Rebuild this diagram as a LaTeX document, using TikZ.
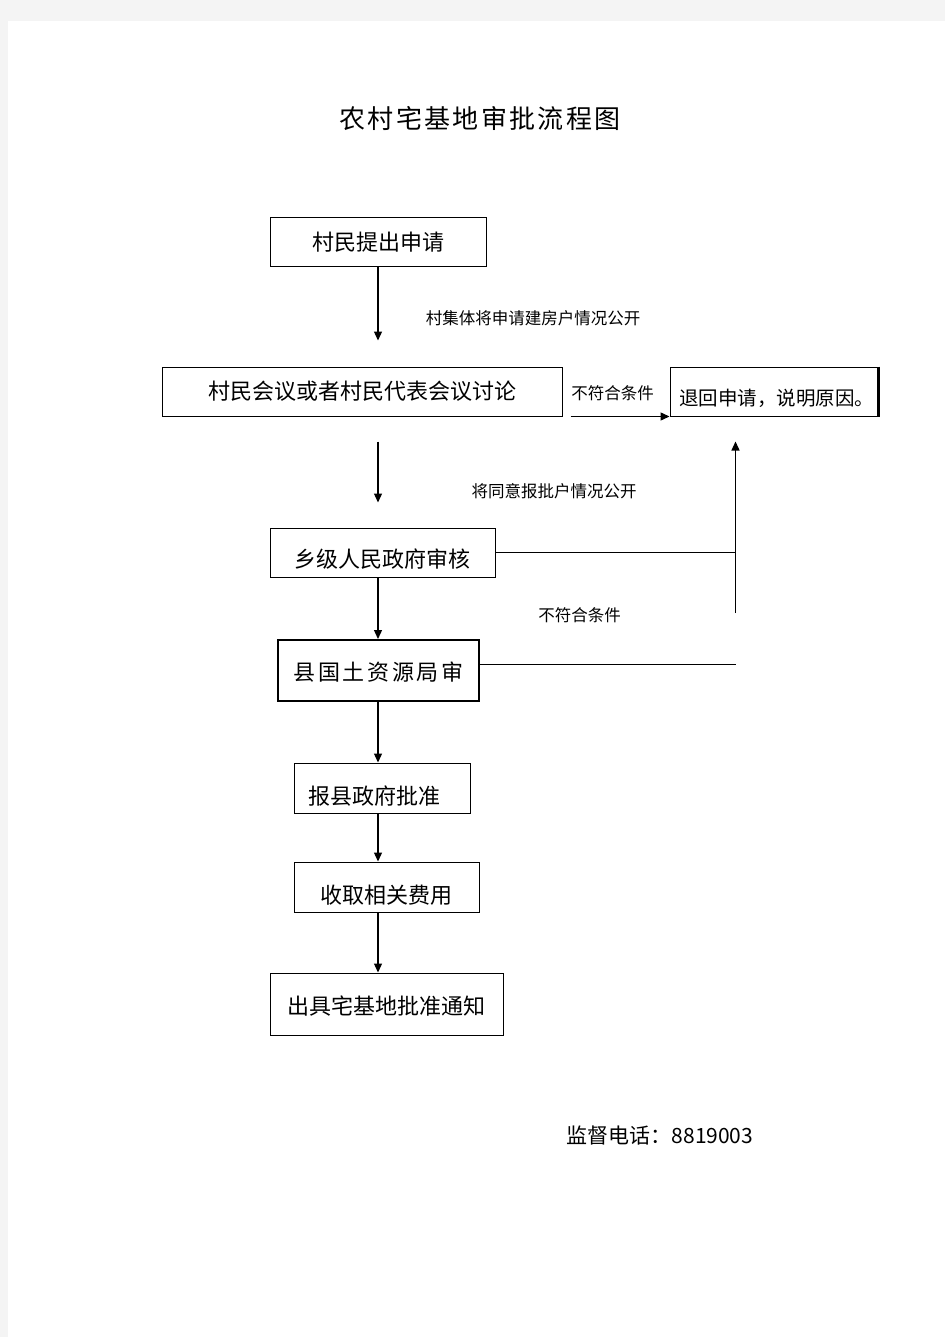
\documentclass[tikz,border=0pt]{standalone}
\usepackage{fontspec}
\setmainfont{Noto Sans CJK SC}
\usepackage{xcolor}
\usepackage{tikz}
\usetikzlibrary{positioning,calc,arrows.meta}
\definecolor{pageGray}{HTML}{F4F4F4}
\tikzset{
  stepBox/.style={
    rectangle,
    draw=black,
    line width=1pt,
    inner sep=0pt,
    font=\fontsize{22pt}{26pt}\selectfont,
    text height=19pt,
    text depth=3pt,
    align=center
  },
  noteText/.style={
    font=\fontsize{16.5pt}{19pt}\selectfont,
    inner sep=0pt
  },
  arrowLine/.style={
    -{Triangle[length=9pt,width=8pt]},
    line width=1.3pt
  },
  plainLine/.style={
    line width=1pt
  }
}

\begin{document}
\begin{tikzpicture}[x=1pt,y=-1pt]
        % page
        \fill[pageGray] (0,0) rectangle (945,1337);
        \fill[white] (8,21) rectangle (945,1337);
        \useasboundingbox (0,0) rectangle (945,1337);

        \node[font=\fontsize{26pt}{28pt}\selectfont\addfontfeature{LetterSpace=9}] (title) at (480,119) {农村宅基地审批流程图};

        % boxes
        \node[stepBox, minimum width=216pt, minimum height=49pt] (apply) at (378,242.5) {村民提出申请};
        \node[stepBox, minimum width=400pt, minimum height=49pt] (meeting) at (362,391.5) {村民会议或者村民代表会议讨论};
        \node[stepBox, minimum width=208pt, minimum height=49pt, text height=31pt,
              font=\fontsize{19.5pt}{24pt}\selectfont] (reject) at (774,391.5) {\hspace{5pt}退回申请，说明原因。};
        \node[stepBox, minimum width=225pt, minimum height=49pt, text height=33pt] (township) at (382.5,552.5) {乡级人民政府审核};
        \node[stepBox, minimum width=201pt, minimum height=61pt, line width=2pt, text height=22pt,
              font=\fontsize{22pt}{26pt}\selectfont\addfontfeature{LetterSpace=12}] (county) at (378.5,670.5) {县国土资源局审};
        \node[stepBox, minimum width=176pt, minimum height=50pt, text height=35pt] (govApprove) at (382,788) {报县政府批准\hspace{15pt}};
        \node[stepBox, minimum width=185pt, minimum height=50pt, text height=35pt] (fees) at (386.5,887) {收取相关费用};
        \node[stepBox, minimum width=233pt, minimum height=62pt, text height=23pt] (notice) at (386.5,1004) {出具宅基地批准通知};
        \draw[line width=2.2pt] (reject.north east) -- (reject.south east);

        % labels
        \node[noteText] (noteOpen) at (533,318) {村集体将申请建房户情况公开};
        \node[noteText] (noteFailA) at (612.5,393) {不符合条件};
        \node[noteText] (noteAgree) at (554,491) {将同意报批户情况公开};
        \node[noteText] (noteFailB) at (579.5,615) {不符合条件};
        \node[font=\fontsize{21pt}{24pt}\selectfont, inner sep=0pt] (phone) at (660,1135) {监督电话：8819003};

        \coordinate (riser) at (735.5,613);

        % main flow
        \draw[arrowLine, shorten >=26pt] (apply.south) -- (apply.south |- meeting.north);
        \draw[arrowLine, shorten <=25pt, shorten >=25pt] (meeting.south -| apply) -- (township.north -| apply);
        \draw[arrowLine] (township.south -| apply) -- (county.north -| apply);
        \draw[arrowLine] (county.south -| apply) -- (govApprove.north -| apply);
        \draw[arrowLine] (govApprove.south -| apply) -- (fees.north -| apply);
        \draw[arrowLine] (fees.south -| apply) -- (notice.north -| apply);

        % rejections
        \draw[arrowLine, shorten <=8pt] (meeting.south east) -- (reject.south west);
        \draw[plainLine] (township.east) -- (township.east -| riser);
        \draw[plainLine] ([yshift=6.5pt]county.east) -- ([yshift=6.5pt]county.east -| riser);
        \draw[arrowLine, shorten >=25pt] (riser) -- (riser |- reject.south);
    \end{tikzpicture}
\end{document}
